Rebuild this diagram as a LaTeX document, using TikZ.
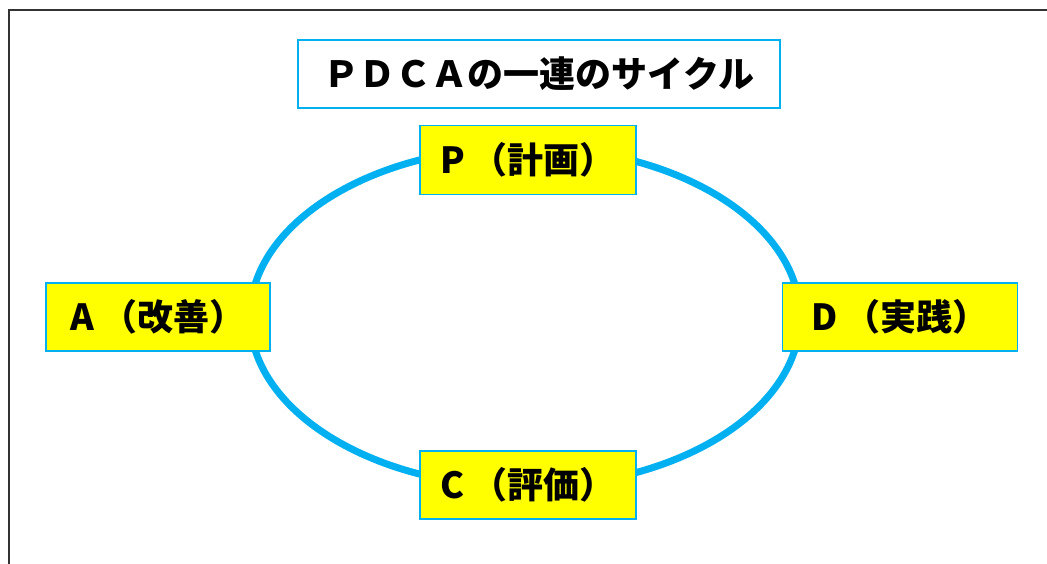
\documentclass[tikz,border=0pt]{standalone}
\usepackage{fontspec}
\newfontfamily\jp{Noto Sans CJK JP}
\definecolor{cyc}{HTML}{00B0F0}
\definecolor{ylw}{HTML}{FFFF00}
\begin{document}
\begin{tikzpicture}[x=1pt,y=-1pt,
  box/.style={draw=cyc,line width=1.6pt,fill=ylw,inner sep=0pt,font=\jp\bfseries\fontsize{36}{40}\selectfont},
  titlebox/.style={draw=cyc,line width=1.6pt,fill=white,inner sep=0pt,minimum width=482pt,minimum height=68pt,font=\jp\bfseries\fontsize{36}{40}\selectfont}]
\useasboundingbox (0,0) rectangle (1047,563);
\draw[line width=1.6pt,black!80] (9,570) -- (9,10) -- (1060,10);
\draw[cyc,line width=7pt] (525,317) ellipse [x radius=275, y radius=170];
\node[titlebox] (title) at (539,74) {ＰＤＣＡの一連のサイクル};
\node[box,minimum width=216pt,minimum height=69pt] (p) at (528,160) {P\hspace{7pt}（計画）};
\node[box,minimum width=224pt,minimum height=68pt] (a) at (158,317) {A\hspace{7pt}（改善）};
\node[box,minimum width=235pt,minimum height=68pt] (d) at (900,317) {D\hspace{7pt}（実践）};
\node[box,minimum width=216pt,minimum height=68pt] (c) at (528,485) {C\hspace{7pt}（評価）};
\end{tikzpicture}
\end{document}
